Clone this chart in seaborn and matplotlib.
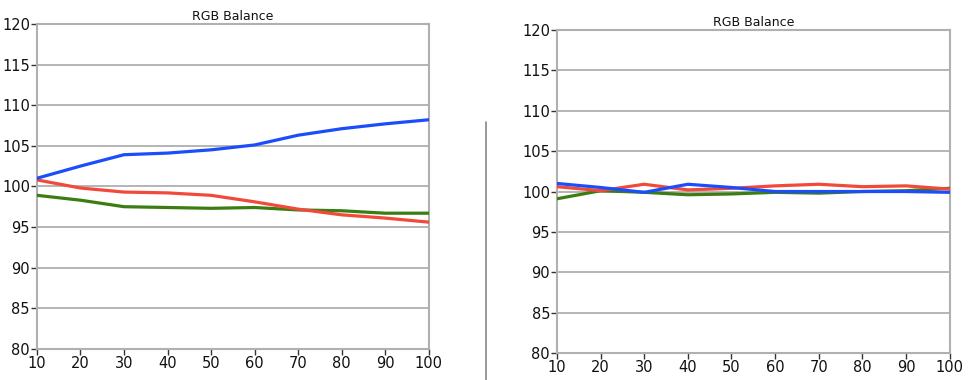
import pandas as pd
import numpy as np
import matplotlib
matplotlib.use("Agg")
import matplotlib.pyplot as plt
import seaborn as sns

# brightness steps (%) on the x axis
steps = [10, 20, 30, 40, 50, 60, 70, 80, 90, 100]

# left chart (before calibration)
left_red = [100.8, 99.8, 99.3, 99.2, 98.9, 98.1, 97.2, 96.5, 96.1, 95.6]
left_green = [98.9, 98.3, 97.5, 97.4, 97.3, 97.4, 97.1, 97.0, 96.7, 96.7]
left_blue = [101.0, 102.5, 103.9, 104.1, 104.5, 105.1, 106.3, 107.1, 107.7, 108.2]

# right chart (after calibration)
right_red = [100.6, 100.1, 100.9, 100.2, 100.4, 100.7, 100.9, 100.6, 100.7, 100.3]
right_green = [99.1, 100.1, 99.9, 99.6, 99.7, 99.9, 99.8, 100.0, 100.1, 100.4]
right_blue = [101.0, 100.5, 99.9, 100.9, 100.5, 100.0, 100.0, 100.0, 100.0, 99.9]

y_ticks = [80, 85, 90, 95, 100, 105, 110, 115, 120]
colors = {"Red": "#f2493a", "Green": "#3b7d12", "Blue": "#1c4dfb"}


def to_long(red, green, blue):
    rows = []
    for name, vals in [("Green", green), ("Red", red), ("Blue", blue)]:
        for s, v in zip(steps, vals):
            rows.append({"Step": s, "Value": v, "Channel": name})
    return pd.DataFrame(rows)


sns.set_style("white")
plt.rcParams["font.family"] = ["DejaVu Sans"]

fig = plt.figure(figsize=(9.72, 3.8), dpi=100)
ax1 = fig.add_axes([0.038, 0.082, 0.403, 0.855])
ax2 = fig.add_axes([0.573, 0.071, 0.404, 0.850])

for ax, (r, g, b) in [(ax1, (left_red, left_green, left_blue)),
                      (ax2, (right_red, right_green, right_blue))]:
    df = to_long(r, g, b)
    sns.lineplot(data=df, x="Step", y="Value", hue="Channel", palette=colors,
                 linewidth=2.3, legend=False, ax=ax, zorder=3)
    ax.set_xlim(10, 100)
    ax.set_ylim(80, 120)
    ax.set_xticks(steps)
    ax.set_yticks(y_ticks)
    ax.yaxis.grid(True, color="#a8a8a8", linewidth=1.2)
    ax.xaxis.grid(False)
    for sp in ax.spines.values():
        sp.set_color("#b0b0b0")
        sp.set_linewidth(1.5)
    ax.tick_params(axis="both", direction="out", length=4, width=1,
                   color="#333333", labelcolor="#111111", labelsize=10.5,
                   pad=1, left=True, bottom=True)
    ax.set_xlabel("")
    ax.set_ylabel("")
    ax.set_title("RGB Balance", fontsize=9, pad=3, color="#111111")

# thin divider between the two charts
fig.add_artist(plt.Line2D([0.5, 0.5], [0.0, 0.68], color="#888888",
                          linewidth=1.2, transform=fig.transFigure))

fig.savefig("out.png", dpi=100)
